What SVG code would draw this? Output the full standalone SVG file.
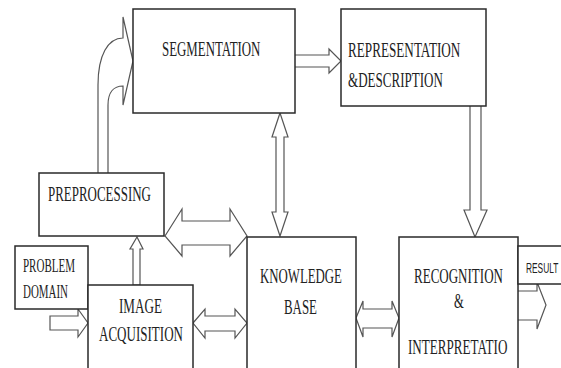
<svg xmlns="http://www.w3.org/2000/svg" width="561" height="368" viewBox="0 0 561 368">
<style>
.box{fill:#fff;stroke:#2a2a2a;stroke-width:1.5}
.arr{fill:#fff;stroke:#555;stroke-width:1.2;stroke-linejoin:miter}
.t{font-family:"Liberation Serif","Times New Roman",serif;font-size:21px;fill:#222}
.s{font-family:"Liberation Serif","Times New Roman",serif;font-size:19px;fill:#222}
.r{font-family:"Liberation Sans",Arial,sans-serif;font-size:15px;fill:#222}
</style>
<rect width="561" height="368" fill="#fff"/>
<g id="connectors">
<path class="arr" d="M98,173 L98,85 C98,55 108,38 123,38 L123,17 L133,61 L123,105 L123,86 C114,86 108,92 108,105 L108,173"/>
<path class="arr" d="M295,55 L329,55 L329,49 L341,61 L329,73 L329,67 L295,67"/>
<path class="arr" d="M280,113 L288,137 L284,137 L284,212 L288,212 L280,236 L272,212 L276,212 L276,137 L272,137 Z"/>
<path class="arr" d="M165,236 L182,209 L182,221 L230,221 L230,209 L247,236 L230,256 L230,245 L182,245 L182,256 Z"/>
<path class="arr" d="M137,237 L143,249 L140,249 L140,285 L133,285 L133,249 L130,249 Z"/>
<path class="arr" d="M50,316 L78,316 L78,309 L88,323 L78,337 L78,330 L50,330 Z"/>
<path class="arr" d="M193,323 L205,309 L205,316 L235,316 L235,309 L247,323 L235,338 L235,331 L205,331 L205,338 Z"/>
<path class="arr" d="M356,318 L363,301 L363,309 L392,309 L392,301 L399,318 L392,337 L392,328 L363,328 L363,337 Z"/>
<path class="arr" d="M470,106 L470,210 L464,210 L475,237 L487,210 L481,210 L481,106"/>
<path class="arr" d="M518,291 L537,291 L537,282 L546,305 L537,329 L537,320 L518,320"/>
</g>
<g id="segmentation">
<rect class="box" x="133" y="9" width="162" height="104"/>
<text class="t" transform="translate(162,56) scale(0.614,1)">SEGMENTATION</text>
</g>
<g id="representation">
<rect class="box" x="341" y="9" width="145" height="97"/>
<text class="t" transform="translate(348,57) scale(0.628,1)">REPRESENTATION</text>
<text class="t" transform="translate(348,87) scale(0.622,1)">&amp;DESCRIPTION</text>
</g>
<g id="preprocessing">
<rect class="box" x="39" y="173" width="125" height="63"/>
<text class="t" transform="translate(48,201) scale(0.617,1)">PREPROCESSING</text>
</g>
<g id="problem-domain">
<rect class="box" x="15" y="246" width="73" height="63"/>
<text class="s" transform="translate(23,272) scale(0.58,1)">PROBLEM</text>
<text class="s" transform="translate(23,298) scale(0.576,1)">DOMAIN</text>
</g>
<g id="image-acquisition">
<rect class="box" x="88" y="285" width="105" height="100"/>
<text class="t" transform="translate(119,313) scale(0.625,1)">IMAGE</text>
<text class="t" transform="translate(99,341) scale(0.621,1)">ACQUISITION</text>
</g>
<g id="knowledge-base">
<rect class="box" x="247" y="237" width="109" height="150"/>
<text class="t" transform="translate(260,283) scale(0.611,1)">KNOWLEDGE</text>
<text class="t" transform="translate(284,314) scale(0.615,1)">BASE</text>
</g>
<g id="recognition">
<rect class="box" x="399" y="237" width="119" height="150"/>
<text class="t" transform="translate(414,283) scale(0.62,1)">RECOGNITION</text>
<text class="t" transform="translate(454,308) scale(0.6,1)">&amp;</text>
<text class="t" transform="translate(408,354) scale(0.624,1)">INTERPRETATIO</text>
</g>
<g id="result">
<rect class="box" x="518" y="246" width="60" height="38"/>
<text class="r" transform="translate(526,273) scale(0.557,1)">RESULT</text>
</g>
</svg>
